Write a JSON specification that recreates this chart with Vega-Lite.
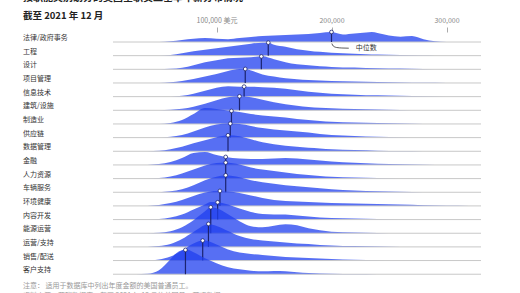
{
 "$schema": "https://vega.github.io/schema/vega-lite/v6.json",
 "padding": {"left": 23, "top": -8, "right": 0, "bottom": 0},
 "background": "white",
 "config": {"font": "Noto Sans CJK SC", "view": {"stroke": null}},
 "title": {"text": "按职能类别划分的美国全职员工基本年薪分布情况", "subtitle": "截至 2021 年 12 月", "anchor": "start", "frame": "bounds", "fontSize": 10, "fontWeight": "bold", "color": "#222", "subtitleFontSize": 9.5, "subtitleFontWeight": "bold", "subtitleColor": "#222", "subtitlePadding": 8, "offset": -4},
 "vconcat": [
  {
   "title": {"text": ["注意： 适用于数据库中列出年度金额的美国普通员工。", "资料来源：薪酬数据库，截至 2021 年 12 月的美国员工薪资数据"], "orient": "bottom", "anchor": "start", "frame": "bounds", "fontSize": 7, "fontWeight": "normal", "color": "#999", "offset": 7, "lineHeight": 10},
   "data": {"values": [
{"j":"法律/政府事务","t":"a","s":50000,"d":0},{"j":"法律/政府事务","t":"a","s":60000,"d":0.8},{"j":"法律/政府事务","t":"a","s":70000,"d":2},{"j":"法律/政府事务","t":"a","s":80000,"d":3.3},{"j":"法律/政府事务","t":"a","s":90000,"d":4},{"j":"法律/政府事务","t":"a","s":100000,"d":3.2},{"j":"法律/政府事务","t":"a","s":110000,"d":2.8},{"j":"法律/政府事务","t":"a","s":120000,"d":4},{"j":"法律/政府事务","t":"a","s":130000,"d":5},{"j":"法律/政府事务","t":"a","s":140000,"d":6},{"j":"法律/政府事务","t":"a","s":150000,"d":6.5},{"j":"法律/政府事务","t":"a","s":160000,"d":7},{"j":"法律/政府事务","t":"a","s":170000,"d":7.5},{"j":"法律/政府事务","t":"a","s":180000,"d":8},{"j":"法律/政府事务","t":"a","s":190000,"d":9},{"j":"法律/政府事务","t":"a","s":200000,"d":10},{"j":"法律/政府事务","t":"a","s":210000,"d":7.5},{"j":"法律/政府事务","t":"a","s":220000,"d":8.5},{"j":"法律/政府事务","t":"a","s":230000,"d":9.5},{"j":"法律/政府事务","t":"a","s":235000,"d":10},{"j":"法律/政府事务","t":"a","s":240000,"d":9},{"j":"法律/政府事务","t":"a","s":250000,"d":6.5},{"j":"法律/政府事务","t":"a","s":260000,"d":5.3},{"j":"法律/政府事务","t":"a","s":270000,"d":6},{"j":"法律/政府事务","t":"a","s":280000,"d":2.8},{"j":"法律/政府事务","t":"a","s":290000,"d":0.8},{"j":"法律/政府事务","t":"a","s":300000,"d":0},
{"j":"工程","t":"a","s":50000,"d":0},{"j":"工程","t":"a","s":60000,"d":0.7},{"j":"工程","t":"a","s":70000,"d":2.5},{"j":"工程","t":"a","s":80000,"d":4.5},{"j":"工程","t":"a","s":90000,"d":6},{"j":"工程","t":"a","s":100000,"d":7.5},{"j":"工程","t":"a","s":110000,"d":9},{"j":"工程","t":"a","s":120000,"d":10.5},{"j":"工程","t":"a","s":130000,"d":12},{"j":"工程","t":"a","s":140000,"d":13},{"j":"工程","t":"a","s":145000,"d":13},{"j":"工程","t":"a","s":150000,"d":11},{"j":"工程","t":"a","s":160000,"d":9},{"j":"工程","t":"a","s":170000,"d":6.5},{"j":"工程","t":"a","s":180000,"d":5},{"j":"工程","t":"a","s":190000,"d":3.8},{"j":"工程","t":"a","s":200000,"d":3},{"j":"工程","t":"a","s":210000,"d":2.4},{"j":"工程","t":"a","s":220000,"d":1.8},{"j":"工程","t":"a","s":230000,"d":1.4},{"j":"工程","t":"a","s":240000,"d":1.1},{"j":"工程","t":"a","s":260000,"d":0.6},{"j":"工程","t":"a","s":280000,"d":0.2},{"j":"工程","t":"a","s":290000,"d":0},
{"j":"设计","t":"a","s":50000,"d":0},{"j":"设计","t":"a","s":60000,"d":0.5},{"j":"设计","t":"a","s":70000,"d":1.5},{"j":"设计","t":"a","s":80000,"d":4},{"j":"设计","t":"a","s":90000,"d":7},{"j":"设计","t":"a","s":100000,"d":9},{"j":"设计","t":"a","s":110000,"d":11},{"j":"设计","t":"a","s":120000,"d":11.5},{"j":"设计","t":"a","s":130000,"d":12},{"j":"设计","t":"a","s":140000,"d":13},{"j":"设计","t":"a","s":150000,"d":10},{"j":"设计","t":"a","s":160000,"d":7},{"j":"设计","t":"a","s":170000,"d":5},{"j":"设计","t":"a","s":180000,"d":4},{"j":"设计","t":"a","s":190000,"d":3},{"j":"设计","t":"a","s":200000,"d":2.4},{"j":"设计","t":"a","s":220000,"d":1.7},{"j":"设计","t":"a","s":240000,"d":1},{"j":"设计","t":"a","s":260000,"d":0.7},{"j":"设计","t":"a","s":280000,"d":0.4},{"j":"设计","t":"a","s":300000,"d":0.1},{"j":"设计","t":"a","s":310000,"d":0},
{"j":"项目管理","t":"a","s":50000,"d":0},{"j":"项目管理","t":"a","s":60000,"d":0.8},{"j":"项目管理","t":"a","s":70000,"d":2},{"j":"项目管理","t":"a","s":80000,"d":4},{"j":"项目管理","t":"a","s":90000,"d":6.5},{"j":"项目管理","t":"a","s":100000,"d":9},{"j":"项目管理","t":"a","s":110000,"d":12},{"j":"项目管理","t":"a","s":120000,"d":14},{"j":"项目管理","t":"a","s":125000,"d":14},{"j":"项目管理","t":"a","s":130000,"d":12.5},{"j":"项目管理","t":"a","s":140000,"d":8.5},{"j":"项目管理","t":"a","s":150000,"d":6.5},{"j":"项目管理","t":"a","s":160000,"d":4.8},{"j":"项目管理","t":"a","s":170000,"d":3.8},{"j":"项目管理","t":"a","s":180000,"d":3},{"j":"项目管理","t":"a","s":190000,"d":2.5},{"j":"项目管理","t":"a","s":200000,"d":2},{"j":"项目管理","t":"a","s":220000,"d":1.4},{"j":"项目管理","t":"a","s":240000,"d":0.9},{"j":"项目管理","t":"a","s":260000,"d":0.5},{"j":"项目管理","t":"a","s":280000,"d":0.2},{"j":"项目管理","t":"a","s":300000,"d":0},
{"j":"信息技术","t":"a","s":60000,"d":0},{"j":"信息技术","t":"a","s":70000,"d":1},{"j":"信息技术","t":"a","s":80000,"d":3},{"j":"信息技术","t":"a","s":90000,"d":6},{"j":"信息技术","t":"a","s":100000,"d":9},{"j":"信息技术","t":"a","s":110000,"d":10.5},{"j":"信息技术","t":"a","s":120000,"d":10},{"j":"信息技术","t":"a","s":130000,"d":10},{"j":"信息技术","t":"a","s":140000,"d":9.5},{"j":"信息技术","t":"a","s":150000,"d":9},{"j":"信息技术","t":"a","s":160000,"d":8},{"j":"信息技术","t":"a","s":170000,"d":6.5},{"j":"信息技术","t":"a","s":180000,"d":5},{"j":"信息技术","t":"a","s":190000,"d":4},{"j":"信息技术","t":"a","s":200000,"d":3},{"j":"信息技术","t":"a","s":220000,"d":2},{"j":"信息技术","t":"a","s":240000,"d":1.3},{"j":"信息技术","t":"a","s":260000,"d":0.8},{"j":"信息技术","t":"a","s":280000,"d":0.4},{"j":"信息技术","t":"a","s":300000,"d":0},
{"j":"建筑/设施","t":"a","s":50000,"d":0},{"j":"建筑/设施","t":"a","s":60000,"d":0.5},{"j":"建筑/设施","t":"a","s":70000,"d":1.5},{"j":"建筑/设施","t":"a","s":80000,"d":3.5},{"j":"建筑/设施","t":"a","s":90000,"d":6.5},{"j":"建筑/设施","t":"a","s":100000,"d":10},{"j":"建筑/设施","t":"a","s":110000,"d":13},{"j":"建筑/设施","t":"a","s":120000,"d":14},{"j":"建筑/设施","t":"a","s":130000,"d":13},{"j":"建筑/设施","t":"a","s":140000,"d":10.5},{"j":"建筑/设施","t":"a","s":150000,"d":8},{"j":"建筑/设施","t":"a","s":160000,"d":6},{"j":"建筑/设施","t":"a","s":170000,"d":4.5},{"j":"建筑/设施","t":"a","s":180000,"d":3.2},{"j":"建筑/设施","t":"a","s":190000,"d":2.5},{"j":"建筑/设施","t":"a","s":200000,"d":2},{"j":"建筑/设施","t":"a","s":220000,"d":1.2},{"j":"建筑/设施","t":"a","s":240000,"d":0.7},{"j":"建筑/设施","t":"a","s":260000,"d":0.3},{"j":"建筑/设施","t":"a","s":280000,"d":0},
{"j":"制造业","t":"a","s":50000,"d":0},{"j":"制造业","t":"a","s":60000,"d":1},{"j":"制造业","t":"a","s":70000,"d":4},{"j":"制造业","t":"a","s":80000,"d":10},{"j":"制造业","t":"a","s":90000,"d":16},{"j":"制造业","t":"a","s":100000,"d":15},{"j":"制造业","t":"a","s":110000,"d":13.5},{"j":"制造业","t":"a","s":120000,"d":12},{"j":"制造业","t":"a","s":130000,"d":10},{"j":"制造业","t":"a","s":140000,"d":8.5},{"j":"制造业","t":"a","s":150000,"d":7.5},{"j":"制造业","t":"a","s":160000,"d":6.5},{"j":"制造业","t":"a","s":170000,"d":5},{"j":"制造业","t":"a","s":180000,"d":4},{"j":"制造业","t":"a","s":190000,"d":3},{"j":"制造业","t":"a","s":200000,"d":2.3},{"j":"制造业","t":"a","s":220000,"d":1.5},{"j":"制造业","t":"a","s":240000,"d":1},{"j":"制造业","t":"a","s":260000,"d":0.5},{"j":"制造业","t":"a","s":280000,"d":0},
{"j":"供应链","t":"a","s":50000,"d":0},{"j":"供应链","t":"a","s":60000,"d":0.8},{"j":"供应链","t":"a","s":70000,"d":2.5},{"j":"供应链","t":"a","s":80000,"d":6},{"j":"供应链","t":"a","s":90000,"d":10},{"j":"供应链","t":"a","s":100000,"d":13},{"j":"供应链","t":"a","s":110000,"d":14},{"j":"供应链","t":"a","s":120000,"d":13.5},{"j":"供应链","t":"a","s":130000,"d":11.5},{"j":"供应链","t":"a","s":140000,"d":9.5},{"j":"供应链","t":"a","s":150000,"d":8},{"j":"供应链","t":"a","s":160000,"d":7},{"j":"供应链","t":"a","s":170000,"d":6},{"j":"供应链","t":"a","s":180000,"d":5},{"j":"供应链","t":"a","s":190000,"d":3.5},{"j":"供应链","t":"a","s":200000,"d":2.5},{"j":"供应链","t":"a","s":220000,"d":1.5},{"j":"供应链","t":"a","s":240000,"d":0.8},{"j":"供应链","t":"a","s":260000,"d":0.3},{"j":"供应链","t":"a","s":280000,"d":0},
{"j":"数据管理","t":"a","s":40000,"d":0},{"j":"数据管理","t":"a","s":50000,"d":0.5},{"j":"数据管理","t":"a","s":60000,"d":2},{"j":"数据管理","t":"a","s":70000,"d":4.5},{"j":"数据管理","t":"a","s":80000,"d":8},{"j":"数据管理","t":"a","s":90000,"d":11},{"j":"数据管理","t":"a","s":100000,"d":14},{"j":"数据管理","t":"a","s":110000,"d":16},{"j":"数据管理","t":"a","s":120000,"d":15},{"j":"数据管理","t":"a","s":130000,"d":12},{"j":"数据管理","t":"a","s":140000,"d":9},{"j":"数据管理","t":"a","s":150000,"d":7},{"j":"数据管理","t":"a","s":160000,"d":5.5},{"j":"数据管理","t":"a","s":170000,"d":4.5},{"j":"数据管理","t":"a","s":180000,"d":3.5},{"j":"数据管理","t":"a","s":190000,"d":2.8},{"j":"数据管理","t":"a","s":200000,"d":2},{"j":"数据管理","t":"a","s":220000,"d":1.2},{"j":"数据管理","t":"a","s":240000,"d":0.6},{"j":"数据管理","t":"a","s":260000,"d":0.2},{"j":"数据管理","t":"a","s":280000,"d":0},
{"j":"金融","t":"a","s":40000,"d":0},{"j":"金融","t":"a","s":50000,"d":1},{"j":"金融","t":"a","s":60000,"d":3},{"j":"金融","t":"a","s":70000,"d":7},{"j":"金融","t":"a","s":80000,"d":12},{"j":"金融","t":"a","s":90000,"d":13},{"j":"金融","t":"a","s":100000,"d":10},{"j":"金融","t":"a","s":108000,"d":8},{"j":"金融","t":"a","s":120000,"d":6.5},{"j":"金融","t":"a","s":130000,"d":6},{"j":"金融","t":"a","s":140000,"d":6},{"j":"金融","t":"a","s":150000,"d":6.5},{"j":"金融","t":"a","s":160000,"d":7},{"j":"金融","t":"a","s":170000,"d":6.5},{"j":"金融","t":"a","s":180000,"d":5.5},{"j":"金融","t":"a","s":190000,"d":4.5},{"j":"金融","t":"a","s":200000,"d":3.5},{"j":"金融","t":"a","s":220000,"d":2.2},{"j":"金融","t":"a","s":240000,"d":1.3},{"j":"金融","t":"a","s":260000,"d":0.7},{"j":"金融","t":"a","s":280000,"d":0.3},{"j":"金融","t":"a","s":300000,"d":0},
{"j":"人力资源","t":"a","s":40000,"d":0},{"j":"人力资源","t":"a","s":50000,"d":0.5},{"j":"人力资源","t":"a","s":60000,"d":2},{"j":"人力资源","t":"a","s":70000,"d":5},{"j":"人力资源","t":"a","s":80000,"d":9},{"j":"人力资源","t":"a","s":90000,"d":13},{"j":"人力资源","t":"a","s":100000,"d":15.5},{"j":"人力资源","t":"a","s":108000,"d":16},{"j":"人力资源","t":"a","s":120000,"d":14},{"j":"人力资源","t":"a","s":130000,"d":11},{"j":"人力资源","t":"a","s":140000,"d":9},{"j":"人力资源","t":"a","s":150000,"d":7.5},{"j":"人力资源","t":"a","s":160000,"d":6},{"j":"人力资源","t":"a","s":170000,"d":4.5},{"j":"人力资源","t":"a","s":180000,"d":3.5},{"j":"人力资源","t":"a","s":190000,"d":2.5},{"j":"人力资源","t":"a","s":200000,"d":1.8},{"j":"人力资源","t":"a","s":220000,"d":1},{"j":"人力资源","t":"a","s":240000,"d":0.5},{"j":"人力资源","t":"a","s":260000,"d":0.2},{"j":"人力资源","t":"a","s":280000,"d":0},
{"j":"车辆服务","t":"a","s":50000,"d":0},{"j":"车辆服务","t":"a","s":60000,"d":1},{"j":"车辆服务","t":"a","s":70000,"d":3},{"j":"车辆服务","t":"a","s":80000,"d":7},{"j":"车辆服务","t":"a","s":90000,"d":12},{"j":"车辆服务","t":"a","s":100000,"d":15.5},{"j":"车辆服务","t":"a","s":108000,"d":17},{"j":"车辆服务","t":"a","s":120000,"d":15},{"j":"车辆服务","t":"a","s":130000,"d":12},{"j":"车辆服务","t":"a","s":140000,"d":10},{"j":"车辆服务","t":"a","s":150000,"d":8.5},{"j":"车辆服务","t":"a","s":160000,"d":7},{"j":"车辆服务","t":"a","s":170000,"d":6},{"j":"车辆服务","t":"a","s":180000,"d":5},{"j":"车辆服务","t":"a","s":190000,"d":4},{"j":"车辆服务","t":"a","s":200000,"d":3},{"j":"车辆服务","t":"a","s":220000,"d":1.8},{"j":"车辆服务","t":"a","s":240000,"d":1},{"j":"车辆服务","t":"a","s":260000,"d":0.4},{"j":"车辆服务","t":"a","s":280000,"d":0},
{"j":"环境健康","t":"a","s":40000,"d":0},{"j":"环境健康","t":"a","s":50000,"d":1},{"j":"环境健康","t":"a","s":60000,"d":3},{"j":"环境健康","t":"a","s":70000,"d":6},{"j":"环境健康","t":"a","s":80000,"d":10},{"j":"环境健康","t":"a","s":90000,"d":13.5},{"j":"环境健康","t":"a","s":100000,"d":15},{"j":"环境健康","t":"a","s":110000,"d":14.5},{"j":"环境健康","t":"a","s":120000,"d":13},{"j":"环境健康","t":"a","s":130000,"d":10.5},{"j":"环境健康","t":"a","s":140000,"d":8},{"j":"环境健康","t":"a","s":150000,"d":6},{"j":"环境健康","t":"a","s":160000,"d":5},{"j":"环境健康","t":"a","s":170000,"d":4.5},{"j":"环境健康","t":"a","s":180000,"d":4},{"j":"环境健康","t":"a","s":190000,"d":3.5},{"j":"环境健康","t":"a","s":200000,"d":3},{"j":"环境健康","t":"a","s":220000,"d":2.5},{"j":"环境健康","t":"a","s":240000,"d":2},{"j":"环境健康","t":"a","s":260000,"d":1.3},{"j":"环境健康","t":"a","s":280000,"d":0.6},{"j":"环境健康","t":"a","s":300000,"d":0.2},{"j":"环境健康","t":"a","s":320000,"d":0},
{"j":"内容开发","t":"a","s":40000,"d":0},{"j":"内容开发","t":"a","s":50000,"d":0.5},{"j":"内容开发","t":"a","s":60000,"d":2},{"j":"内容开发","t":"a","s":70000,"d":5},{"j":"内容开发","t":"a","s":80000,"d":10},{"j":"内容开发","t":"a","s":90000,"d":15},{"j":"内容开发","t":"a","s":95000,"d":17.5},{"j":"内容开发","t":"a","s":100000,"d":17.3},{"j":"内容开发","t":"a","s":110000,"d":15},{"j":"内容开发","t":"a","s":120000,"d":11},{"j":"内容开发","t":"a","s":130000,"d":7.5},{"j":"内容开发","t":"a","s":140000,"d":5.5},{"j":"内容开发","t":"a","s":150000,"d":5},{"j":"内容开发","t":"a","s":160000,"d":5},{"j":"内容开发","t":"a","s":170000,"d":4},{"j":"内容开发","t":"a","s":180000,"d":3},{"j":"内容开发","t":"a","s":190000,"d":2},{"j":"内容开发","t":"a","s":200000,"d":1.5},{"j":"内容开发","t":"a","s":220000,"d":1},{"j":"内容开发","t":"a","s":240000,"d":0.5},{"j":"内容开发","t":"a","s":260000,"d":0.2},{"j":"内容开发","t":"a","s":280000,"d":0},
{"j":"能源运营","t":"a","s":40000,"d":0},{"j":"能源运营","t":"a","s":50000,"d":0.5},{"j":"能源运营","t":"a","s":60000,"d":2},{"j":"能源运营","t":"a","s":70000,"d":6},{"j":"能源运营","t":"a","s":80000,"d":13},{"j":"能源运营","t":"a","s":90000,"d":22},{"j":"能源运营","t":"a","s":95000,"d":26},{"j":"能源运营","t":"a","s":100000,"d":25},{"j":"能源运营","t":"a","s":110000,"d":19},{"j":"能源运营","t":"a","s":120000,"d":12},{"j":"能源运营","t":"a","s":130000,"d":7},{"j":"能源运营","t":"a","s":140000,"d":6},{"j":"能源运营","t":"a","s":150000,"d":7.5},{"j":"能源运营","t":"a","s":160000,"d":9},{"j":"能源运营","t":"a","s":170000,"d":8},{"j":"能源运营","t":"a","s":180000,"d":5},{"j":"能源运营","t":"a","s":190000,"d":3},{"j":"能源运营","t":"a","s":200000,"d":1.5},{"j":"能源运营","t":"a","s":220000,"d":0.7},{"j":"能源运营","t":"a","s":240000,"d":0.3},{"j":"能源运营","t":"a","s":260000,"d":0},
{"j":"运营/支持","t":"a","s":40000,"d":0},{"j":"运营/支持","t":"a","s":50000,"d":1},{"j":"运营/支持","t":"a","s":60000,"d":3},{"j":"运营/支持","t":"a","s":70000,"d":8},{"j":"运营/支持","t":"a","s":80000,"d":15},{"j":"运营/支持","t":"a","s":90000,"d":22},{"j":"运营/支持","t":"a","s":93000,"d":23},{"j":"运营/支持","t":"a","s":100000,"d":21},{"j":"运营/支持","t":"a","s":110000,"d":16},{"j":"运营/支持","t":"a","s":120000,"d":11},{"j":"运营/支持","t":"a","s":130000,"d":8},{"j":"运营/支持","t":"a","s":140000,"d":6.5},{"j":"运营/支持","t":"a","s":150000,"d":5.5},{"j":"运营/支持","t":"a","s":160000,"d":4.5},{"j":"运营/支持","t":"a","s":170000,"d":3.5},{"j":"运营/支持","t":"a","s":180000,"d":2.8},{"j":"运营/支持","t":"a","s":190000,"d":2},{"j":"运营/支持","t":"a","s":200000,"d":1.5},{"j":"运营/支持","t":"a","s":220000,"d":0.8},{"j":"运营/支持","t":"a","s":240000,"d":0.3},{"j":"运营/支持","t":"a","s":260000,"d":0},
{"j":"销售/配送","t":"a","s":40000,"d":0},{"j":"销售/配送","t":"a","s":50000,"d":1},{"j":"销售/配送","t":"a","s":60000,"d":4},{"j":"销售/配送","t":"a","s":70000,"d":10},{"j":"销售/配送","t":"a","s":80000,"d":17},{"j":"销售/配送","t":"a","s":88000,"d":20},{"j":"销售/配送","t":"a","s":90000,"d":20},{"j":"销售/配送","t":"a","s":100000,"d":16},{"j":"销售/配送","t":"a","s":110000,"d":11},{"j":"销售/配送","t":"a","s":120000,"d":8},{"j":"销售/配送","t":"a","s":130000,"d":6.5},{"j":"销售/配送","t":"a","s":140000,"d":5.5},{"j":"销售/配送","t":"a","s":150000,"d":4.5},{"j":"销售/配送","t":"a","s":160000,"d":3.5},{"j":"销售/配送","t":"a","s":170000,"d":3},{"j":"销售/配送","t":"a","s":180000,"d":2.5},{"j":"销售/配送","t":"a","s":190000,"d":2},{"j":"销售/配送","t":"a","s":200000,"d":1.5},{"j":"销售/配送","t":"a","s":220000,"d":0.8},{"j":"销售/配送","t":"a","s":240000,"d":0.3},{"j":"销售/配送","t":"a","s":260000,"d":0},
{"j":"客户支持","t":"a","s":30000,"d":0},{"j":"客户支持","t":"a","s":40000,"d":0.5},{"j":"客户支持","t":"a","s":50000,"d":4},{"j":"客户支持","t":"a","s":60000,"d":15},{"j":"客户支持","t":"a","s":65000,"d":21},{"j":"客户支持","t":"a","s":70000,"d":24},{"j":"客户支持","t":"a","s":75000,"d":24.5},{"j":"客户支持","t":"a","s":80000,"d":22},{"j":"客户支持","t":"a","s":90000,"d":16},{"j":"客户支持","t":"a","s":100000,"d":11},{"j":"客户支持","t":"a","s":110000,"d":7},{"j":"客户支持","t":"a","s":120000,"d":5},{"j":"客户支持","t":"a","s":130000,"d":3.5},{"j":"客户支持","t":"a","s":140000,"d":3},{"j":"客户支持","t":"a","s":150000,"d":3.3},{"j":"客户支持","t":"a","s":160000,"d":3},{"j":"客户支持","t":"a","s":170000,"d":2},{"j":"客户支持","t":"a","s":180000,"d":1.2},{"j":"客户支持","t":"a","s":200000,"d":0.5},{"j":"客户支持","t":"a","s":220000,"d":0.2},{"j":"客户支持","t":"a","s":240000,"d":0},
{"j":"法律/政府事务","t":"m","s":200000,"d":10},{"j":"工程","t":"m","s":145000,"d":13},{"j":"设计","t":"m","s":139000,"d":12.9},{"j":"项目管理","t":"m","s":125000,"d":14},{"j":"信息技术","t":"m","s":124000,"d":10},{"j":"建筑/设施","t":"m","s":120000,"d":14},{"j":"制造业","t":"m","s":113000,"d":13},{"j":"供应链","t":"m","s":112000,"d":14},{"j":"数据管理","t":"m","s":110000,"d":16},{"j":"金融","t":"m","s":108000,"d":8},{"j":"人力资源","t":"m","s":108000,"d":16},{"j":"车辆服务","t":"m","s":108000,"d":17},{"j":"环境健康","t":"m","s":103000,"d":15},{"j":"内容开发","t":"m","s":101000,"d":17.3},{"j":"能源运营","t":"m","s":95000,"d":26},{"j":"运营/支持","t":"m","s":93000,"d":23},{"j":"销售/配送","t":"m","s":88000,"d":20},{"j":"客户支持","t":"m","s":73000,"d":24.3},
{"j":"法律/政府事务","t":"l","s":200300,"d":-1.5},{"j":"法律/政府事务","t":"l","s":201500,"d":-4},{"j":"法律/政府事务","t":"l","s":204500,"d":-5.5},{"j":"法律/政府事务","t":"l","s":209000,"d":-6},{"j":"法律/政府事务","t":"l","s":215000,"d":-6.2},
{"j":"法律/政府事务","t":"n","s":221000,"d":-6.3,"txt":"中位数"}
   ]},
   "facet": {"row": {"field": "j", "type": "nominal", "title": null,
     "sort": ["法律/政府事务","工程","设计","项目管理","信息技术","建筑/设施","制造业","供应链","数据管理","金融","人力资源","车辆服务","环境健康","内容开发","能源运营","运营/支持","销售/配送","客户支持"],
     "header": {"labels": false}}},
   "spacing": 0.66,
   "bounds": "flush",
   "spec": {
     "width": 368, "height": 13,
     "layer": [
       {"transform": [{"filter": "datum.t === 'a'"}],
        "mark": {"type": "area", "interpolate": "monotone", "color": "#1f3fef", "fillOpacity": 0.75},
        "encoding": {
          "x": {"field": "s", "type": "quantitative", "scale": {"domain": [10000, 330000], "nice": false},
                "axis": {"orient": "top", "values": [100000, 200000, 300000], "labelExpr": "datum.value == 100000 ? '100,000 美元' : format(datum.value, ',')", "title": null, "domain": false, "grid": false, "ticks": true, "tickSize": 5, "tickColor": "#aaa", "labelColor": "#888", "labelFontSize": 7, "labelPadding": 4, "offset": -3}},
          "y": {"field": "d", "type": "quantitative", "scale": {"domain": [0, 13], "nice": false, "zero": false}, "axis": null}}},
       {"transform": [{"filter": "datum.t === 'm'"}],
        "mark": {"type": "rule", "color": "#c8c8c8", "strokeWidth": 1},
        "encoding": {"x": {"datum": 10000}, "x2": {"datum": 330000}, "y": {"datum": 0}}},
       {"transform": [{"filter": "datum.t === 'm'"}],
        "mark": {"type": "text", "align": "left", "baseline": "middle", "fontSize": 7, "color": "#333", "dx": -90},
        "encoding": {"x": {"datum": 10000}, "y": {"datum": 4}, "text": {"field": "j"}}},
       {"transform": [{"filter": "datum.t === 'm'"}],
        "mark": {"type": "rule", "color": "#1b2370", "strokeWidth": 1.2},
        "encoding": {"x": {"field": "s", "type": "quantitative"}, "y": {"field": "d", "type": "quantitative"}, "y2": {"datum": 0}}},
       {"transform": [{"filter": "datum.t === 'm'"}],
        "mark": {"type": "point", "filled": true, "fill": "white", "stroke": "#1b2370", "strokeWidth": 0.8, "size": 14, "opacity": 1},
        "encoding": {"x": {"field": "s", "type": "quantitative"}, "y": {"field": "d", "type": "quantitative"}}},
       {"transform": [{"filter": "datum.t === 'l'"}],
        "mark": {"type": "line", "interpolate": "monotone", "color": "#333", "strokeWidth": 0.8},
        "encoding": {"x": {"field": "s", "type": "quantitative"}, "y": {"field": "d", "type": "quantitative"}}},
       {"transform": [{"filter": "datum.t === 'n'"}],
        "mark": {"type": "text", "align": "left", "baseline": "middle", "fontSize": 7, "color": "#333"},
        "encoding": {"x": {"field": "s", "type": "quantitative"}, "y": {"field": "d", "type": "quantitative"}, "text": {"field": "txt"}}}
     ]
   }
  }
 ]
}
